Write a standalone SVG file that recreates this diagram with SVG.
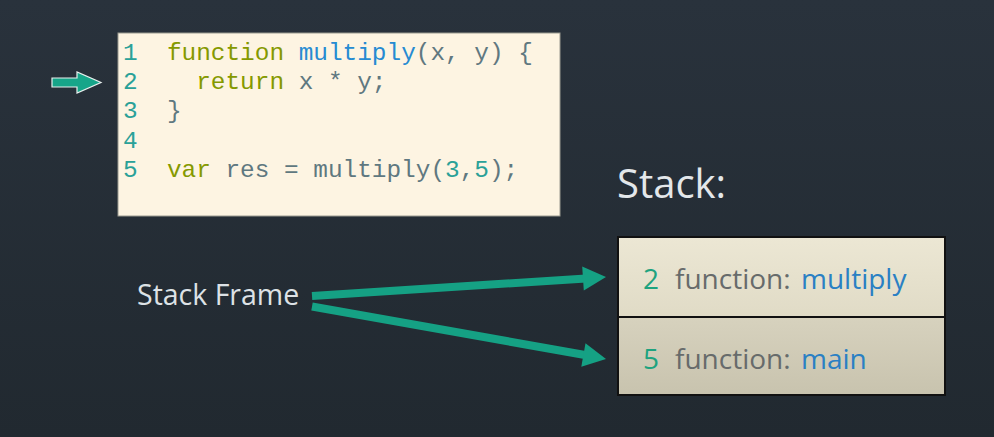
<svg xmlns="http://www.w3.org/2000/svg" width="994" height="437" viewBox="0 0 994 437">
<defs>
<linearGradient id="bg" x1="0" y1="0" x2="0" y2="1">
<stop offset="0" stop-color="#29323c"/>
<stop offset="1" stop-color="#212930"/>
</linearGradient>
<linearGradient id="f1" x1="0" y1="0" x2="0" y2="1">
<stop offset="0" stop-color="#ece7d4"/>
<stop offset="1" stop-color="#e0dbc6"/>
</linearGradient>
<linearGradient id="f2" x1="0" y1="0" x2="0" y2="1">
<stop offset="0" stop-color="#d7d2be"/>
<stop offset="1" stop-color="#c8c3ae"/>
</linearGradient>
<style>
.code{font-family:"Liberation Mono","DejaVu Sans Mono",monospace;font-size:24.4px;white-space:pre;fill:#5f7880}
.ln{fill:#2aa198}
.kw{fill:#859900}
.fn{fill:#268bd2}
.num{fill:#2aa198}
.sans{font-family:"Open Sans","Noto Sans",sans-serif}
.frame{stroke:#111;stroke-width:2}
.ftxt{font-size:28px;fill:#676b6b}
.fnum{fill:#1ea37f}
.fname{fill:#2a80c4}
.conn{stroke:#15a184;stroke-width:8;fill:none}
.head{fill:#15a184}
</style>
</defs>
<rect width="994" height="437" fill="url(#bg)"/>

<g id="code">
<rect x="118" y="33" width="442" height="183" fill="#fdf4e2" stroke="#9a9a90" stroke-width="1"/>
<text class="code" x="123" y="60"><tspan class="ln">1</tspan>  <tspan class="kw">function</tspan> <tspan class="fn">multiply</tspan>(x, y) {</text>
<text class="code" x="123" y="89"><tspan class="ln">2</tspan>    <tspan class="kw">return</tspan> x * y;</text>
<text class="code" x="123" y="118"><tspan class="ln">3</tspan>  }</text>
<text class="code" x="123" y="148"><tspan class="ln">4</tspan></text>
<text class="code" x="123" y="177"><tspan class="ln">5</tspan>  <tspan class="kw">var</tspan> res = multiply(<tspan class="num">3</tspan>,<tspan class="num">5</tspan>);</text>
</g>

<g id="pointer">
<polygon points="52,78 77,78 77,72 101,82.5 77,93 77,87 52,87" fill="#17a589" stroke="#e8f0ee" stroke-width="1.2"/>
</g>

<g id="stack-title">
<text class="sans" x="617" y="198" font-size="40" fill="#e3e7ea">Stack:</text>
</g>

<g id="frame-multiply">
<rect class="frame" x="618" y="237" width="327" height="80" fill="url(#f1)"/>
<text class="sans ftxt" x="643" y="289"><tspan class="fnum">2</tspan><tspan x="675">function: </tspan><tspan class="fname" x="801">multiply</tspan></text>
</g>

<g id="frame-main">
<rect class="frame" x="618" y="317" width="327" height="78" fill="url(#f2)"/>
<text class="sans ftxt" x="643" y="369"><tspan class="fnum">5</tspan><tspan x="675">function: </tspan><tspan class="fname" x="801">main</tspan></text>
</g>

<g id="stack-frame-label">
<text class="sans" x="137" y="305" font-size="28.5" fill="#dde2e6">Stack Frame</text>
</g>

<g id="connectors">
<line class="conn" x1="312" y1="296" x2="586" y2="278.5"/>
<polygon class="head" points="606,277 583.8,290.5 582.2,266.5"/>
<line class="conn" x1="312" y1="306.5" x2="585" y2="355"/>
<polygon class="head" points="606,359 581.3,366.8 585.5,343.2"/>
</g>
</svg>
